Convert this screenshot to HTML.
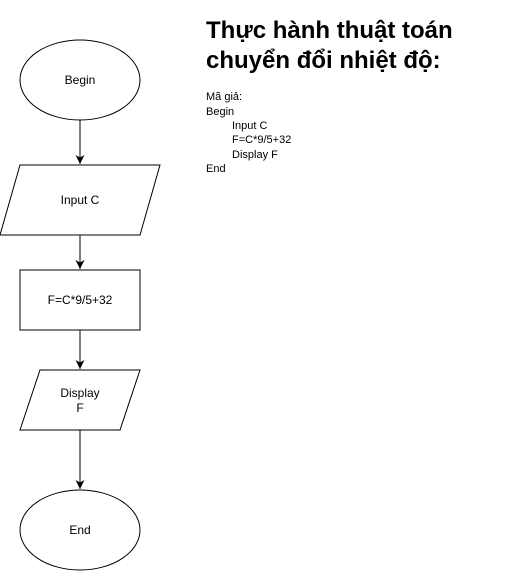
<!DOCTYPE html>
<html><head><meta charset="utf-8"><style>
body{margin:0;width:521px;height:571px;background:#fff;overflow:hidden}
svg{position:absolute;left:0;top:0}
text{font-family:"Liberation Sans",Arial,sans-serif}
</style></head><body>
<svg width="521" height="571" viewBox="0 0 521 571">
<defs><marker id="a" markerWidth="12" markerHeight="12" refX="10" refY="6" orient="auto" markerUnits="userSpaceOnUse"><path d="M1,1.5 L10,6 L1,10.5 L3.5,6 Z" fill="#000"/></marker></defs>
<g fill="#fff" stroke="#000" stroke-width="1">
<ellipse cx="80" cy="80" rx="60" ry="40"/>
<polygon points="20,165 160,165 140,235 0,235"/>
<rect x="20" y="270" width="120" height="60"/>
<polygon points="40,370 140,370 120,430 20,430"/>
<ellipse cx="80" cy="530" rx="60" ry="40"/>
</g>
<g stroke="#000" stroke-width="1" marker-end="url(#a)">
<line x1="80" y1="120" x2="80" y2="164"/>
<line x1="80" y1="235" x2="80" y2="269"/>
<line x1="80" y1="330" x2="80" y2="369"/>
<line x1="80" y1="430" x2="80" y2="489"/>
</g>
<g font-size="12" text-anchor="middle" fill="#000">
<text x="80" y="84">Begin</text>
<text x="80" y="204">Input C</text>
<text x="80" y="304">F=C*9/5+32</text>
<text x="80" y="397">Display</text>
<text x="80" y="412">F</text>
<text x="80" y="534">End</text>
</g>
<g font-size="24" font-weight="bold" fill="#000">
<text x="206" y="38">Thực hành thuật toán</text>
<text x="206" y="68">chuyển đổi nhiệt độ:</text>
</g>
<g font-size="11" fill="#000">
<text x="206" y="100">Mã giả:</text>
<text x="206" y="115">Begin</text>
<text x="232" y="129">Input C</text>
<text x="232" y="143">F=C*9/5+32</text>
<text x="232" y="158">Display F</text>
<text x="206" y="172">End</text>
</g>
</svg>
</body></html>
